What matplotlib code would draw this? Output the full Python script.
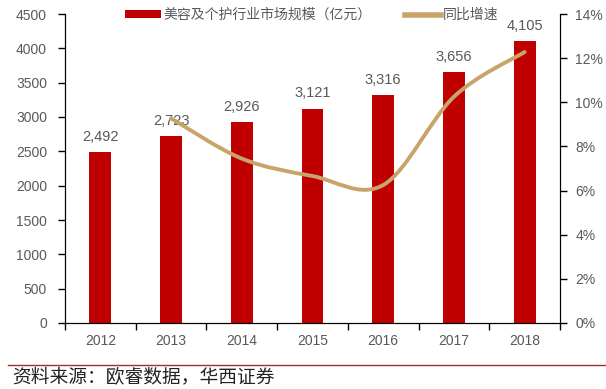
import matplotlib
matplotlib.use("Agg")
import matplotlib.pyplot as plt
from matplotlib.path import Path
from matplotlib.patches import PathPatch, Patch
from matplotlib.lines import Line2D
from matplotlib import font_manager as fm
import numpy as np

years = ["2012", "2013", "2014", "2015", "2016", "2017", "2018"]
market_size = [2492, 2723, 2926, 3121, 3316, 3656, 4105]
growth_years_idx = [1, 2, 3, 4, 5, 6]
growth_pct = [9.27, 7.45, 6.66, 6.25, 10.25, 12.28]
left_ticks = [0, 500, 1000, 1500, 2000, 2500, 3000, 3500, 4000, 4500]
right_ticks = [0, 2, 4, 6, 8, 10, 12, 14]

names = {f.name for f in fm.fontManager.ttflist}
num_font = "Liberation Sans Narrow" if "Liberation Sans Narrow" in names else "Liberation Sans"
cjk = ["Noto Sans CJK SC", "DejaVu Sans"]

BAR = "#C00000"
LINE = "#C9A46A"
GRAY = "#595959"

fig = plt.figure(figsize=(6.06, 3.89), dpi=100)
ax = fig.add_axes([65/606, 1-323/389, (560-65)/606, (323-14)/389])
ax2 = ax.twinx()

x = np.arange(len(years))
ax.bar(x, market_size, width=0.31, color=BAR, zorder=2)
for xi, v in zip(x, market_size):
    ax.annotate(f"{v:,}", (xi, v), xytext=(0, 6), textcoords="offset points",
                ha="center", va="bottom", fontsize=10.5, color=GRAY, family=num_font)

ax.set_xlim(-0.5, len(years) - 0.5)
ax.set_ylim(0, 4500)
ax.set_yticks(left_ticks)
ax.set_yticklabels([str(t) for t in left_ticks], fontsize=10, color=GRAY, family=num_font)
ax.set_xticks(np.arange(-0.5, len(years), 1.0))
ax.set_xticklabels([])
ax.set_xticks(x, minor=True)
ax.set_xticklabels(years, minor=True, fontsize=10, color=GRAY, family=num_font)
ax.tick_params(axis="x", which="major", direction="out", length=5, width=1)
ax.tick_params(axis="x", which="minor", length=0, pad=8)
ax.tick_params(axis="y", direction="out", length=5, width=1, pad=8)
ax.spines["top"].set_visible(False)

ax2.set_ylim(0, 14)
ax2.set_yticks(right_ticks)
ax2.set_yticklabels([f"{t}%" for t in right_ticks], fontsize=10, color=GRAY, family=num_font)
ax2.tick_params(axis="y", direction="out", length=5, width=1, pad=6)
ax2.spines["top"].set_visible(False)

# smooth line (Excel-like bezier through data points)
px = np.array(growth_years_idx, dtype=float)
py = np.array(growth_pct, dtype=float)
n = len(px)
verts = [(px[0], py[0])]
codes = [Path.MOVETO]
for i in range(n - 1):
    p0 = (px[i-1], py[i-1]) if i > 0 else (px[i], py[i])
    p1 = (px[i], py[i])
    p2 = (px[i+1], py[i+1])
    p3 = (px[i+2], py[i+2]) if i + 2 < n else p2
    c1 = (p1[0] + (p2[0]-p0[0])/6, p1[1] + (p2[1]-p0[1])/6)
    c2 = (p2[0] - (p3[0]-p1[0])/6, p2[1] - (p3[1]-p1[1])/6)
    verts += [c1, c2, p2]
    codes += [Path.CURVE4]*3
patch = PathPatch(Path(verts, codes), facecolor="none", edgecolor=LINE, lw=2.8,
                  capstyle="round", joinstyle="round", zorder=3)
ax2.add_patch(patch)

# legend
handles = [Patch(facecolor=BAR, edgecolor="none"),
           Line2D([], [], color=LINE, lw=4)]
leg = fig.legend(handles, ["美容及个护行业市场规模（亿元）", "同比增速"],
                 loc="center", bbox_to_anchor=(312/606, 1-15/389), ncol=2, frameon=False,
                 prop={"family": cjk, "size": 10}, handlelength=2.6, handleheight=0.5,
                 columnspacing=2.4, handletextpad=0.15)
for t in leg.get_texts():
    t.set_color(GRAY)

# separator and source
fig.add_artist(Line2D([8/606, 1.0], [1-365/389, 1-365/389], color="#A0302A", lw=1.0))
fig.text(12/606, 1-378/389, "资料来源：欧睿数据，华西证券", fontsize=13.5, family=cjk,
         color="#222222", va="center", ha="left")

fig.savefig("out.png", dpi=100)
